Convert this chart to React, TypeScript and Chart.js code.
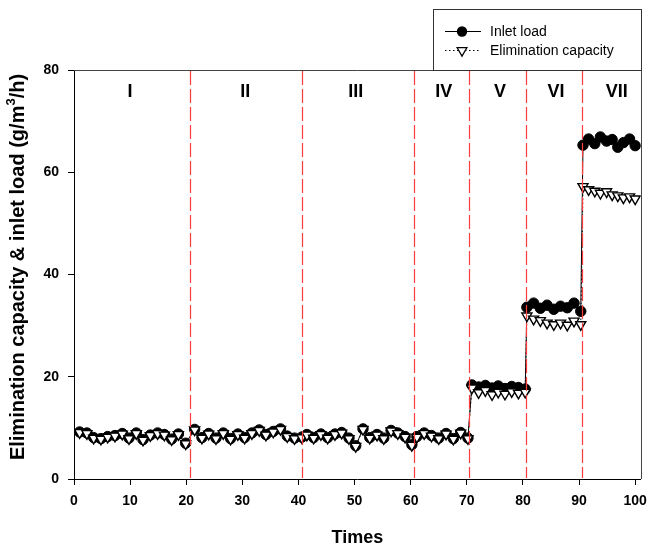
import React, { useEffect, useRef } from "react";
import { Chart, registerables } from "chart.js";
Chart.register(...registerables);

const FONT = '"Liberation Sans", Arial, Helvetica, sans-serif';

// Sampling times (x) per stage I..VII
const times = [
  1.0, 2.3, 3.5, 4.8, 6.0, 7.3, 8.6, 9.8, 11.1, 12.3, 13.6, 14.9, 16.1, 17.4, 18.6, 19.9,
  21.5, 22.8, 24.0, 25.3, 26.6, 27.9, 29.2, 30.4, 31.7, 33.0, 34.2, 35.5, 36.8, 38.0, 39.3, 40.6,
  41.5, 42.7, 44.0, 45.2, 46.5, 47.7, 49.0, 50.2, 51.5, 52.7, 54.0, 55.2, 56.5, 57.7, 59.0, 60.2,
  61.1, 62.4, 63.7, 65.0, 66.3, 67.6, 68.9, 70.2,
  70.9, 72.1, 73.3, 74.5, 75.6, 76.8, 78.0, 79.2, 80.4,
  80.7, 81.9, 83.1, 84.3, 85.5, 86.7, 87.9, 89.1, 90.3,
  90.7, 91.7, 92.8, 93.8, 94.9, 95.9, 96.9, 97.9, 99.0, 100.0,
];

const inletLoad = [
  9.2, 9.0, 8.1, 7.9, 8.3, 8.5, 8.9, 8.0, 9.0, 7.7, 8.6, 9.0, 8.7, 7.8, 8.8, 7.0,
  9.7, 8.1, 8.9, 8.0, 9.0, 7.9, 8.8, 8.1, 9.0, 9.6, 8.7, 9.3, 9.8, 8.4, 8.0, 8.2,
  8.7, 8.1, 8.8, 8.1, 8.8, 9.1, 8.0, 6.5, 9.8, 8.1, 8.7, 8.0, 9.5, 9.0, 8.3, 6.7,
  8.3, 9.0, 8.5, 8.0, 8.9, 7.9, 9.1, 8.0,
  18.4, 18.0, 18.3, 17.8, 18.2, 17.7, 18.1, 17.9, 17.6,
  33.6, 34.4, 33.4, 34.0, 33.2, 33.8, 33.5, 34.4, 32.8,
  65.3, 66.5, 65.6, 66.9, 66.1, 66.4, 64.9, 65.8, 66.5, 65.2,
];

const eliminationCapacity = [
  9.1, 8.9, 8.0, 7.8, 8.2, 8.4, 8.8, 7.9, 8.9, 7.6, 8.5, 8.9, 8.6, 7.7, 8.7, 6.9,
  9.6, 8.0, 8.8, 7.9, 8.9, 7.8, 8.7, 8.0, 8.9, 9.5, 8.6, 9.2, 9.7, 8.3, 7.9, 8.1,
  8.6, 8.0, 8.7, 8.0, 8.7, 9.0, 7.9, 6.4, 9.7, 8.0, 8.6, 7.9, 9.4, 8.9, 8.2, 6.6,
  8.2, 8.9, 8.4, 7.9, 8.8, 7.8, 9.0, 7.9,
  17.8, 16.9, 17.3, 16.5, 17.0, 16.6, 17.1, 16.8, 17.0,
  31.9, 31.3, 31.0, 30.5, 30.2, 30.5, 30.1, 30.9, 30.2,
  57.2, 56.6, 56.3, 55.9, 56.2, 55.6, 55.4, 55.0, 55.2, 54.8,
];

const stageBoundaries = [20.6, 40.6, 60.5, 70.4, 80.5, 90.5];
const stageNames = ["I", "II", "III", "IV", "V", "VI", "VII"];
const stageNameX = [10, 30.5, 50.2, 65.9, 75.9, 85.9, 96.7];
const stageNameY = 75.7;

const xTicks = [0, 10, 20, 30, 40, 50, 60, 70, 80, 90, 100];
const yTicks = [0, 20, 40, 60, 80];

const seriesNames = ["Inlet load", "Elimination capacity"];
const xTitle = "Times";
const yTitleMain = "Elimination capacity & inlet load (g/m";
const yTitleSup = "3";
const yTitleTail = "/h)";

function drawDownTriangle(ctx: CanvasRenderingContext2D, x: number, y: number, r: number) {
  ctx.beginPath();
  for (let k = 0; k < 3; k++) {
    const a = Math.PI + k * (2 * Math.PI / 3);
    const px = x + Math.sin(a) * r;
    const py = y - Math.cos(a) * r;
    if (k === 0) ctx.moveTo(px, py); else ctx.lineTo(px, py);
  }
  ctx.closePath();
}

const decorPlugin = {
  id: "decor",
  beforeDraw(chart: any) {
    const ctx = chart.ctx;
    ctx.save();
    ctx.fillStyle = "#fff";
    ctx.fillRect(0, 0, chart.width, chart.height);
    ctx.restore();
  },
  afterDatasetsDraw(chart: any) {
    const ctx: CanvasRenderingContext2D = chart.ctx;
    const { left, right, top, bottom } = chart.chartArea;
    const xs = chart.scales.x;
    const ys = chart.scales.y;
    ctx.save();
    // red dashed stage separators
    ctx.strokeStyle = "#ff3b3b";
    ctx.lineWidth = 1.2;
    ctx.setLineDash([14, 4]);
    for (const b of stageBoundaries) {
      const px = Math.round(xs.getPixelForValue(b)) + 0.5;
      ctx.beginPath();
      ctx.moveTo(px, top + 1);
      ctx.lineTo(px, bottom - 1);
      ctx.stroke();
    }
    ctx.setLineDash([]);
    // frame top/right
    ctx.strokeStyle = "#444";
    ctx.lineWidth = 1;
    ctx.beginPath();
    ctx.moveTo(left, Math.round(top) + 0.5);
    ctx.lineTo(Math.round(right) + 0.5, Math.round(top) + 0.5);
    ctx.lineTo(Math.round(right) + 0.5, bottom);
    ctx.stroke();
    // stage labels
    ctx.fillStyle = "#000";
    ctx.font = `bold 18px ${FONT}`;
    ctx.textAlign = "center";
    ctx.textBaseline = "middle";
    stageNames.forEach((n, i) => {
      ctx.fillText(n, xs.getPixelForValue(stageNameX[i]), ys.getPixelForValue(stageNameY));
    });
    ctx.restore();
  },
  afterDraw(chart: any) {
    const ctx: CanvasRenderingContext2D = chart.ctx;
    const { left, right } = chart.chartArea;
    ctx.save();
    ctx.fillStyle = "#000";
    // x title
    ctx.font = `bold 18px ${FONT}`;
    ctx.textAlign = "center";
    ctx.textBaseline = "middle";
    ctx.fillText(xTitle, (left + right) / 2, 538);
    // y title with superscript
    ctx.translate(18, 267);
    ctx.rotate(-Math.PI / 2);
    ctx.textAlign = "left";
    ctx.font = `bold 20px ${FONT}`;
    const w1 = ctx.measureText(yTitleMain).width;
    const w3 = ctx.measureText(yTitleTail).width;
    ctx.font = `bold 13px ${FONT}`;
    const w2 = ctx.measureText(yTitleSup).width;
    let sx = -(w1 + w2 + w3) / 2;
    ctx.font = `bold 20px ${FONT}`;
    ctx.fillText(yTitleMain, sx, 0);
    sx += w1;
    ctx.font = `bold 13px ${FONT}`;
    ctx.fillText(yTitleSup, sx, -7);
    sx += w2;
    ctx.font = `bold 20px ${FONT}`;
    ctx.fillText(yTitleTail, sx, 0);
    ctx.restore();

    // legend
    ctx.save();
    ctx.strokeStyle = "#333";
    ctx.lineWidth = 1;
    ctx.strokeRect(433.5, 9.5, 208, 61);
    const rows = [31, 50];
    ctx.strokeStyle = "#000";
    ctx.beginPath();
    ctx.moveTo(445, rows[0] + 0.5);
    ctx.lineTo(481, rows[0] + 0.5);
    ctx.stroke();
    ctx.fillStyle = "#000";
    ctx.beginPath();
    ctx.arc(462, rows[0] + 0.5, 5.2, 0, Math.PI * 2);
    ctx.fill();
    ctx.setLineDash([1.5, 2.5]);
    ctx.beginPath();
    ctx.moveTo(445, rows[1] + 0.5);
    ctx.lineTo(481, rows[1] + 0.5);
    ctx.stroke();
    ctx.setLineDash([]);
    ctx.fillStyle = "#fff";
    ctx.lineWidth = 1.3;
    drawDownTriangle(ctx, 462, rows[1] + 0.5, 5.6);
    ctx.fill();
    ctx.stroke();
    ctx.fillStyle = "#000";
    ctx.font = `14px ${FONT}`;
    ctx.textAlign = "left";
    ctx.textBaseline = "middle";
    ctx.fillText(seriesNames[0], 490, rows[0] + 1);
    ctx.fillText(seriesNames[1], 490, rows[1] + 1);
    ctx.restore();
  },
};

export default function App() {
  const ref = useRef<HTMLCanvasElement | null>(null);
  useEffect(() => {
    document.body.style.margin = "0";
    const canvas = ref.current;
    if (!canvas) return;
    const ecData = times.map((t, i) => ({ x: t, y: eliminationCapacity[i] }));
    const ilData = times.map((t, i) => ({ x: t, y: inletLoad[i] }));
    const chart = new Chart(canvas, {
      type: "scatter",
      data: {
        datasets: [
          {
            label: seriesNames[1],
            data: ecData,
            showLine: true,
            borderColor: "#000",
            borderWidth: 1,
            borderDash: [1.5, 2.5],
            pointStyle: "triangle",
            rotation: 180,
            pointRadius: 5.8,
            pointBackgroundColor: "#fff",
            pointBorderColor: "#000",
            pointBorderWidth: 1.4,
          } as any,
          {
            label: seriesNames[0],
            data: ilData,
            showLine: true,
            borderColor: "#000",
            borderWidth: 1,
            pointStyle: "circle",
            pointRadius: 5.2,
            pointBackgroundColor: "#000",
            pointBorderColor: "#000",
            pointBorderWidth: 1,
          } as any,
        ],
      },
      options: {
        responsive: false,
        animation: false,
        devicePixelRatio: 1,
        layout: { padding: { top: 70, right: 7, left: 0, bottom: 0 } },
        plugins: {
          legend: { display: false },
          tooltip: { enabled: false },
          title: { display: false },
        },
        scales: {
          x: {
            type: "linear",
            min: 0,
            max: 101,
            afterBuildTicks: (s: any) => {
              s.ticks = xTicks.map((v) => ({ value: v }));
            },
            afterFit: (s: any) => {
              s.height = 71;
              s.paddingLeft = 0;
              s.paddingRight = 0;
            },
            grid: {
              display: true,
              drawOnChartArea: false,
              drawTicks: true,
              tickLength: 6,
              color: "#000",
              lineWidth: 1,
            },
            border: { display: true, color: "#000", width: 1 },
            ticks: {
              color: "#000",
              font: { family: FONT, size: 14, weight: "bold" },
              padding: 8,
              maxRotation: 0,
              autoSkip: false,
            },
          },
          y: {
            type: "linear",
            min: 0,
            max: 80,
            afterBuildTicks: (s: any) => {
              s.ticks = yTicks.map((v) => ({ value: v }));
            },
            afterFit: (s: any) => {
              s.width = 74;
              s.paddingTop = 0;
              s.paddingBottom = 0;
            },
            grid: {
              display: true,
              drawOnChartArea: false,
              drawTicks: true,
              tickLength: 6,
              color: "#000",
              lineWidth: 1,
            },
            border: { display: true, color: "#000", width: 1 },
            ticks: {
              color: "#000",
              font: { family: FONT, size: 14, weight: "bold" },
              padding: 9,
              autoSkip: false,
            },
          },
        },
      } as any,
      plugins: [decorPlugin],
    });
    return () => chart.destroy();
  }, []);
  return (
    <canvas
      ref={ref}
      width={648}
      height={550}
      style={{ display: "block", width: 648, height: 550 }}
    />
  );
}
